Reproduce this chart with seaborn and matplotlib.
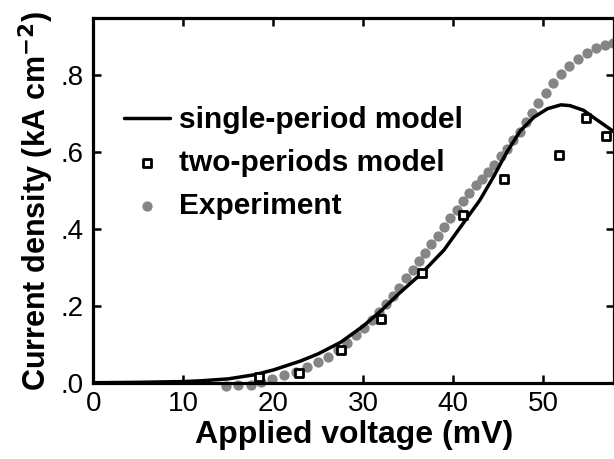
import numpy as np
import pandas as pd
import matplotlib
matplotlib.use("Agg")
import matplotlib.pyplot as plt
import seaborn as sns
from matplotlib.ticker import FuncFormatter

# single-period model (solid line)
single_v = [0, 5, 10, 12, 15, 18, 20, 23, 25, 27.5, 30, 32, 34, 36.5, 39, 41,
            43, 44.5, 46, 47.5, 49, 50.5, 52, 53, 54.5, 56, 57.9]
single_j = [0, 0.001, 0.003, 0.005, 0.010, 0.021, 0.033, 0.056, 0.075, 0.105,
            0.147, 0.187, 0.232, 0.284, 0.345, 0.41, 0.475, 0.535, 0.6, 0.655,
            0.69, 0.712, 0.722, 0.72, 0.708, 0.683, 0.652]

# two-periods model (open squares)
two_v = [18.4, 22.9, 27.5, 32.0, 36.5, 41.1, 45.7, 51.8, 54.8, 57.0]
two_j = [0.016, 0.026, 0.085, 0.165, 0.286, 0.436, 0.529, 0.592, 0.687, 0.640]

# experiment (grey dots)
exp_v = [14.7, 16.1, 17.5, 18.7, 19.9, 21.2, 22.5, 23.8, 25.0, 26.1, 27.2, 28.2,
         29.2, 30.1, 31.0, 31.8, 32.6, 33.3, 34.0, 34.8, 35.5, 36.2, 36.9, 37.6,
         38.3, 39.0, 39.7, 40.4, 41.1, 41.8, 42.5, 43.2, 43.9, 44.6, 45.3, 46.0,
         46.7, 47.4, 48.1, 48.8, 49.5, 50.3, 51.1, 52.0, 52.9, 53.9, 54.9, 55.9,
         56.9, 57.8]
exp_j = [-0.008, -0.006, -0.005, 0.002, 0.009, 0.019, 0.029, 0.040, 0.054, 0.068,
         0.085, 0.104, 0.124, 0.143, 0.163, 0.183, 0.204, 0.226, 0.247, 0.271,
         0.293, 0.316, 0.338, 0.360, 0.382, 0.405, 0.428, 0.450, 0.472, 0.494,
         0.515, 0.530, 0.548, 0.567, 0.588, 0.608, 0.630, 0.652, 0.677, 0.702,
         0.727, 0.753, 0.778, 0.802, 0.823, 0.842, 0.857, 0.869, 0.878, 0.884]

single = pd.DataFrame({"V": single_v, "J": single_j})
two = pd.DataFrame({"V": two_v, "J": two_j})
exp = pd.DataFrame({"V": exp_v, "J": exp_j})

sns.set_style("ticks")
plt.rcParams["font.family"] = ["Liberation Sans", "DejaVu Sans"]
plt.rcParams.update({"text.color": "black", "axes.labelcolor": "black",
                     "xtick.color": "black", "ytick.color": "black",
                     "axes.edgecolor": "black"})

fig = plt.figure(figsize=(6.14, 4.59), dpi=100)
ax = fig.add_axes([0.152, 0.1662, 0.848, 0.794])

sns.scatterplot(data=exp, x="V", y="J", ax=ax, color="#858585", s=55,
                linewidth=0, marker="o", clip_on=False, zorder=2,
                label="Experiment")
sns.lineplot(data=single, x="V", y="J", ax=ax, color="black", linewidth=2.5,
             zorder=3, label="single-period model")
sns.scatterplot(data=two, x="V", y="J", ax=ax, marker="s", s=38,
                facecolor="white", edgecolor="black", linewidth=2.0,
                zorder=4, label="two-periods model")

ax.set_xlim(0, 57.9)
ax.set_ylim(0, 0.947)
ax.set_xticks([0, 10, 20, 30, 40, 50])
ax.set_yticks([0, 0.2, 0.4, 0.6, 0.8])
ax.yaxis.set_major_formatter(FuncFormatter(lambda v, p: f"{v:.1f}".lstrip("0")))

for s in ax.spines.values():
    s.set_linewidth(2.3)
ax.tick_params(direction="in", length=5.5, width=1.8, top=True, right=True,
               labelsize=20, pad=6)
ax.tick_params(axis="y", pad=7)

ax.set_xlabel("Applied voltage (mV)", fontsize=23, fontweight="bold", labelpad=2)
ax.set_ylabel("Current density (kA cm$^{\\mathbf{-2}}$)", fontsize=22,
              fontweight="bold", labelpad=3)

h, l = ax.get_legend_handles_labels()
order = [l.index("single-period model"), l.index("two-periods model"),
         l.index("Experiment")]
leg = ax.legend([h[i] for i in order], [l[i] for i in order],
                loc="upper left", bbox_to_anchor=(0.03, 0.8), frameon=False,
                borderpad=0, handlelength=1.55, handletextpad=0.3,
                labelspacing=0.5, prop={"weight": "bold", "size": 21.5})

fig.savefig("out.png", dpi=100)
